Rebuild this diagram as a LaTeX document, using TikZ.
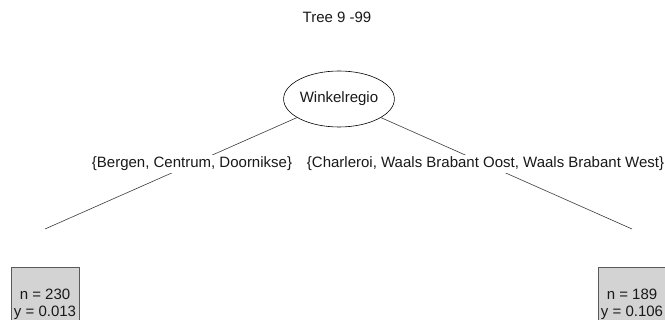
\documentclass[tikz,border=0pt]{standalone}
\usepackage{fontspec}
\setmainfont{Liberation Sans}
\usetikzlibrary{shapes.geometric,calc}
\definecolor{edgecol}{HTML}{3A3A3A}
\definecolor{leaffill}{HTML}{D3D3D3}
\definecolor{leafline}{HTML}{5A5A5A}
\begin{document}
\begin{tikzpicture}[x=1pt,y=-1pt,
  every node/.style={font=\fontsize{15}{17}\selectfont, text=black!90},
  splitnode/.style={ellipse, draw=black, line width=0.6pt, fill=white,
    minimum width=102pt, minimum height=56pt, inner sep=0pt},
  edge/.style={draw=edgecol, line width=0.6pt},
  edgelabel/.style={fill=white, inner xsep=1pt, inner ysep=2pt},
  leafbox/.style={rectangle, draw=leafline, fill=leaffill, line width=0.7pt,
    align=center, minimum width=68pt, anchor=north,
    inner xsep=1pt, inner ysep=22pt},
]
\useasboundingbox (0,0) rectangle (665,320);

% title
\node (title) at (337,17) {Tree 9 -99};

% inner node
\node[splitnode] (root) at (339,99) {Winkelregio};

% ends of the branches
\coordinate (lend) at (45,229);
\coordinate (rend) at (632,229);

% terminal nodes
\node[leafbox] (leafL) at (45,267) {n = 230\\y = 0.013};
\node[leafbox] (leafR) at (632,267) {n = 189\\y = 0.106};

% branches
\draw[edge] (root) -- (lend);
\draw[edge] (root) -- (rend);

% branch labels, covering the middle of each branch
\node[edgelabel] (labL) at ($(root.center)!0.5!(lend)$) {\{Bergen, Centrum, Doornikse\}};
\node[edgelabel] (labR) at ($(root.center)!0.5!(rend)$) {\{Charleroi, Waals Brabant Oost, Waals Brabant West\}};
\end{tikzpicture}
\end{document}
